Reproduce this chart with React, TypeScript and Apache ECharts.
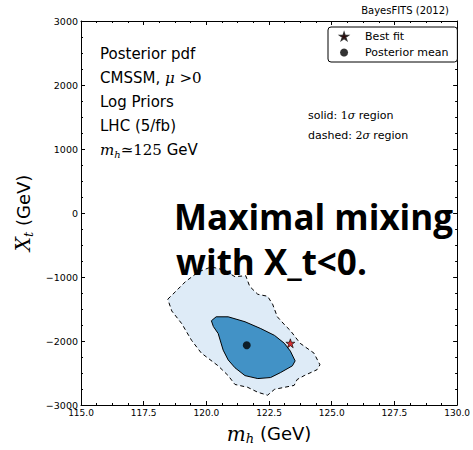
import React, { useEffect, useRef } from "react";
import * as echarts from "echarts";

// ---- data ----
const X_MIN = 115;
const X_MAX = 130;
const X_INTERVAL = 2.5;
const Y_MIN = -3000;
const Y_MAX = 3000;
const Y_INTERVAL = 1000;

// 2-sigma region outline (dashed), [m_h (GeV), X_t (GeV)]
const OUTER_REGION: number[][] = [
  [118.46, -1347], [118.78, -1224], [119.17, -1071], [119.69, -918],
  [120.2, -842], [120.67, -888], [121.14, -995], [121.57, -980],
  [121.73, -1148], [122.05, -1270], [122.44, -1301], [122.64, -1423],
  [122.83, -1622], [123.15, -1760], [123.35, -1837], [123.74, -2036],
  [124.29, -2189], [124.53, -2372], [124.41, -2449], [123.9, -2541],
  [123.62, -2602], [123.5, -2694], [123.11, -2724], [122.72, -2755],
  [122.44, -2847], [122.05, -2801], [121.65, -2724], [121.14, -2679],
  [120.87, -2541], [120.47, -2388], [119.8, -2189], [119.41, -1990],
  [119.02, -1730], [118.62, -1531],
];

// 1-sigma region outline (solid)
const INNER_REGION: number[][] = [
  [120.2, -1684], [120.39, -1622], [120.87, -1622], [121.54, -1699],
  [122.17, -1806], [122.72, -1913], [123.11, -2036], [123.35, -2158],
  [123.54, -2311], [123.43, -2388], [122.95, -2495], [122.56, -2571],
  [122.05, -2587], [121.54, -2541], [121.14, -2418], [120.87, -2296],
  [120.67, -2143], [120.47, -1883], [120.28, -1775],
];

const BEST_FIT: number[][] = [[123.35, -2036]];
const POSTERIOR_MEAN: number[][] = [[121.61, -2066]];

const STAR_D =
  "M50,0 L61.8,35.4 L99,35.4 L69.1,57.3 L80.9,92.7 L50,70.8 L19.1,92.7 L30.9,57.3 L1,35.4 L38.2,35.4 Z";
const STAR_PATH = "path://" + STAR_D;
// same star with an empty margin, so that the legend icon stays small
const STAR_ICON = "path://M-12,-14 L-12,-14 M112,108 L112,108 " + STAR_D;

const SANS = "DejaVu Sans";
const SERIF = "DejaVu Serif";

export default function App() {
  const ref = useRef<HTMLDivElement>(null);

  useEffect(() => {
    if (!ref.current) return;
    const chart = echarts.init(ref.current, undefined, { renderer: "svg" });

    const axisCommon = {
      axisLine: { show: true, onZero: false, lineStyle: { color: "#000", width: 1 } },
      axisTick: { show: true, inside: true, length: 4, lineStyle: { color: "#000" } },
      minorTick: { show: true, splitNumber: 4, length: 2, lineStyle: { color: "#000" } },
      splitLine: { show: false },
    };

    const polygonItem = (pts: number[][], fill: string, dashed: boolean) =>
      (params: any, api: any) => {
        const points = pts.map((p) => api.coord(p));
        return {
          type: "polygon",
          shape: { points },
          style: {
            fill,
            stroke: "#000",
            lineWidth: 1,
            lineDash: dashed ? [4, 3] : null,
          },
        };
      };

    const mathRich = {
      n: { fontFamily: SANS, fontSize: 15, color: "#000" },
      m: { fontFamily: SERIF, fontStyle: "italic", fontSize: 15, color: "#000" },
      r: { fontFamily: SERIF, fontSize: 15, color: "#000" },
      sub: { fontFamily: SERIF, fontStyle: "italic", fontSize: 10, color: "#000", padding: [8, 0, 0, 0] },
    };
    const smallRich = {
      n: { fontFamily: SANS, fontSize: 11, color: "#000" },
      m: { fontFamily: SERIF, fontStyle: "italic", fontSize: 11, color: "#000" },
      r: { fontFamily: SERIF, fontSize: 11, color: "#000" },
    };

    const infoLines = [
      "{n|Posterior pdf}",
      "{n|CMSSM, }{m|μ}{r| >0}",
      "{n|Log Priors}",
      "{n|LHC (5/fb)}",
      "{m|m}{sub|h}{r|≃125}{n| GeV}",
    ];
    const infoY = [54, 78, 102, 126, 150];

    const option: any = {
      animation: false,
      backgroundColor: "#fff",
      grid: { left: 81, top: 21, width: 381, height: 392, containLabel: false },
      xAxis: [
        {
          ...axisCommon,
          type: "value",
          min: X_MIN,
          max: X_MAX,
          interval: X_INTERVAL,
          position: "bottom",
          axisLabel: {
            show: true,
            margin: 3,
            fontFamily: SANS,
            fontSize: 9,
            color: "#000",
            formatter: (v: number) => v.toFixed(1),
          },
          name: "{m|m}{sub|h}{n| (GeV)}",
          nameLocation: "middle",
          nameGap: 17,
          nameTextStyle: {
            rich: {
              m: { fontFamily: SERIF, fontStyle: "italic", fontSize: 20, color: "#000" },
              sub: { fontFamily: SERIF, fontStyle: "italic", fontSize: 13, color: "#000", padding: [10, 0, 0, 0] },
              n: { fontFamily: SANS, fontSize: 18, color: "#000" },
            },
          },
        },
        {
          ...axisCommon,
          type: "value",
          min: X_MIN,
          max: X_MAX,
          interval: X_INTERVAL,
          position: "top",
          axisLabel: { show: false },
        },
      ],
      yAxis: [
        {
          ...axisCommon,
          type: "value",
          min: Y_MIN,
          max: Y_MAX,
          interval: Y_INTERVAL,
          position: "left",
          axisLabel: {
            show: true,
            margin: 3,
            fontFamily: SANS,
            fontSize: 9.5,
            color: "#000",
            formatter: (v: number) => String(v).replace("-", "−"),
          },
          name: "{m|X}{sub|t}{n| (GeV)}",
          nameLocation: "middle",
          nameGap: 36,
          nameRotate: 90,
          nameTextStyle: {
            rich: {
              m: { fontFamily: SERIF, fontStyle: "italic", fontSize: 20, color: "#000" },
              sub: { fontFamily: SERIF, fontStyle: "italic", fontSize: 13, color: "#000", padding: [10, 0, 0, 0] },
              n: { fontFamily: SANS, fontSize: 18, color: "#000" },
            },
          },
        },
        {
          ...axisCommon,
          type: "value",
          min: Y_MIN,
          max: Y_MAX,
          interval: Y_INTERVAL,
          position: "right",
          axisLabel: { show: false },
        },
      ],
      legend: {
        show: true,
        orient: "vertical",
        left: 328,
        top: 27,
        backgroundColor: "#fff",
        borderColor: "#000",
        borderWidth: 1,
        borderRadius: 3,
        padding: [3, 9, 3, 11],
        itemGap: 3,
        itemWidth: 10,
        itemHeight: 8,
        textStyle: { fontFamily: SANS, fontSize: 11, color: "#000", lineHeight: 13, padding: [0, 0, 0, 11] },
        data: [{ name: "Best fit", icon: STAR_ICON }, { name: "Posterior mean" }],
      },
      graphic: [
        {
          type: "text",
          right: 24,
          top: 5,
          style: { text: "BayesFITS (2012)", fontFamily: SANS, fontSize: 10, fill: "#000" },
        },
        ...infoLines.map((t, i) => ({
          type: "text",
          x: 100,
          y: infoY[i],
          z: 100,
          style: { text: t, rich: mathRich, verticalAlign: "middle", align: "left" },
        })),
        {
          type: "text",
          x: 308,
          y: 115,
          z: 100,
          style: { text: "{n|solid: }{r|1}{m|σ}{n| region}", rich: smallRich, verticalAlign: "middle" },
        },
        {
          type: "text",
          x: 308,
          y: 135,
          z: 100,
          style: { text: "{n|dashed: }{r|2}{m|σ}{n| region}", rich: smallRich, verticalAlign: "middle" },
        },
        {
          type: "text",
          x: 174,
          y: 216,
          z: 100,
          style: {
            text: "Maximal mixing",
            fontFamily: "Open Sans",
            fontWeight: "bold",
            fontSize: 35,
            fill: "#000",
            verticalAlign: "middle",
          },
        },
        {
          type: "text",
          x: 176,
          y: 261,
          z: 100,
          style: {
            text: "with X_t<0.",
            fontFamily: "Open Sans",
            fontWeight: "bold",
            fontSize: 35,
            fill: "#000",
            verticalAlign: "middle",
          },
        },
      ],
      series: [
        {
          name: "2σ region",
          type: "custom",
          xAxisIndex: 0,
          yAxisIndex: 0,
          renderItem: polygonItem(OUTER_REGION, "#deebf7", true),
          data: [OUTER_REGION[0]],
          z: 1,
          silent: true,
        },
        {
          name: "1σ region",
          type: "custom",
          xAxisIndex: 0,
          yAxisIndex: 0,
          renderItem: polygonItem(INNER_REGION, "#4292c6", false),
          data: [INNER_REGION[0]],
          z: 2,
          silent: true,
        },
        {
          name: "Best fit",
          type: "scatter",
          xAxisIndex: 0,
          yAxisIndex: 0,
          symbol: STAR_PATH,
          symbolSize: 9,
          itemStyle: { color: "#d40000", borderColor: "#000", borderWidth: 0.8 },
          data: BEST_FIT,
          z: 3,
        },
        {
          name: "Posterior mean",
          type: "scatter",
          xAxisIndex: 0,
          yAxisIndex: 0,
          symbol: "circle",
          symbolSize: 8,
          itemStyle: { color: "#000" },
          data: POSTERIOR_MEAN,
          z: 3,
        },
      ],
    };

    chart.setOption(option);
    return () => chart.dispose();
  }, []);

  return (
    <div
      ref={ref}
      style={{ position: "fixed", left: 0, top: 0, width: 473, height: 450, background: "#fff" }}
    />
  );
}
